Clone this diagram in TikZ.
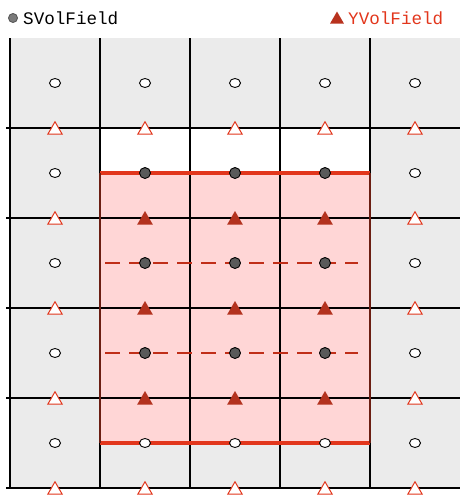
\documentclass[tikz,border=0pt]{standalone}
\usepackage{fontspec}
\setmonofont{Liberation Mono}
\usepackage{tikz}
\usetikzlibrary{shapes.geometric, positioning}
\usepackage{xcolor}
\definecolor{cellgray}{HTML}{EBEBEB}
\definecolor{regionpink}{HTML}{FFD6D6}
\definecolor{fieldred}{HTML}{E2361C}
\definecolor{darkred}{HTML}{B3321E}
\definecolor{dotgray}{HTML}{5A5A5A}

\begin{document}
\begin{tikzpicture}[
			x=1pt, y=-1pt,
			every node/.style={inner sep=0pt},
			label/.style={font=\ttfamily\fontsize{17.6}{20}\selectfont, anchor=base west},
			sfull/.style={circle, draw=black, fill=dotgray, line width=0.9pt, minimum size=11pt},
			sopen/.style={ellipse, draw=black, fill=white, line width=0.9pt, minimum width=11pt, minimum height=9pt},
			yfull/.style={regular polygon, regular polygon sides=3, fill=darkred, minimum size=18pt},
			yopen/.style={regular polygon, regular polygon sides=3, draw=fieldred, fill=white, line width=1pt, minimum size=16.5pt},
			gridline/.style={black, line width=1.7pt},
			edgeline/.style={fieldred, line width=3.2pt},
			cutline/.style={fieldred!85!black, line width=1.8pt, dash pattern=on 15pt off 9pt}
		]
		\useasboundingbox (0,0) rectangle (468,499);
		% cells
		\fill[cellgray] (10,38) rectangle (460,488);
		\fill[white] (100,128) rectangle (370,398);
		\fill[regionpink] (100,173) rectangle (370,443);
		\foreach \x in {10,100,...,370}
			\draw[gridline] (\x,38) -- (\x,488);
		\foreach \y in {128,218,...,488}
			\draw[gridline] (6,\y) -- (460,\y);
		% region border
		\draw[edgeline] (100,173) -- (370,173);
		\draw[edgeline] (100,443) -- (370,443);
		\draw[darkred!60!black, line width=1.7pt] (100,173) -- (100,443);
		\draw[darkred!60!black, line width=1.7pt] (370,173) -- (370,443);
		\draw[cutline] (105,263) -- (358,263);
		\draw[cutline] (105,353) -- (358,353);
		% SVolField points
		\foreach \i in {0,...,4}
			\foreach \j in {0,...,4} {
				\pgfmathtruncatemacro{\inside}{(\i>0)*(\i<4)*(\j>0)*(\j<4)}
				\ifnum\inside=1
					\node[sfull] (s-\i-\j) at (55+90*\i,83+90*\j) {};
				\else
					\node[sopen] (s-\i-\j) at (55+90*\i,83+90*\j) {};
				\fi
			}
		% YVolField points
		\foreach \i in {0,...,4}
			\foreach \k in {0,...,4} {
				\pgfmathtruncatemacro{\inside}{(\i>0)*(\i<4)*(\k>0)*(\k<4)}
				\ifnum\inside=1
					\node[yfull] (y-\i-\k) at (55+90*\i,130+90*\k) {};
				\else
					\node[yopen] (y-\i-\k) at (55+90*\i,130+90*\k) {};
				\fi
			}
		% legend
		\node[sfull, fill=dotgray!80, draw=dotgray, minimum size=9pt] (skey) at (13,18) {};
		\node[label] (stext) at (23,24.5) {SVolField};
		\node[yfull, fill=darkred!90!fieldred, minimum size=16pt] (ykey) at (337,19.5) {};
		\node[label, text=fieldred] (ytext) at (348,24.5) {YVolField};
	\end{tikzpicture}
\end{document}
